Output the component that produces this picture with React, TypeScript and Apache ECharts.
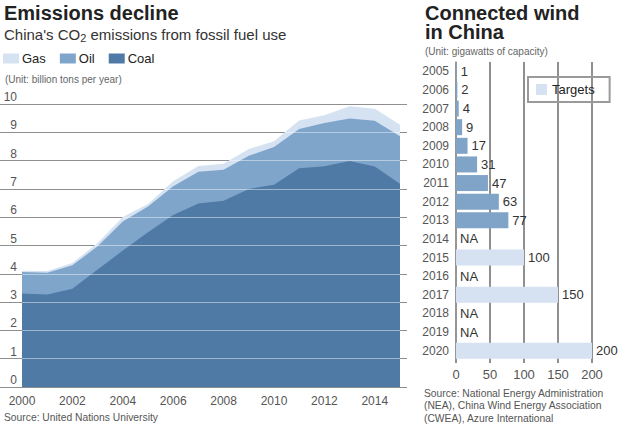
import React, { useEffect, useRef } from "react";
import * as echarts from "echarts";

const years = [2000, 2001, 2002, 2003, 2004, 2005, 2006, 2007, 2008, 2009, 2010, 2011, 2012, 2013, 2014, 2015];
const coal = [3.30, 3.27, 3.47, 4.15, 4.82, 5.47, 6.08, 6.48, 6.58, 7.00, 7.15, 7.73, 7.80, 7.99, 7.79, 7.18];
const oil = [0.76, 0.77, 0.83, 0.82, 1.03, 0.91, 1.01, 1.13, 1.10, 1.17, 1.33, 1.39, 1.53, 1.50, 1.62, 1.68];
const gas = [0.05, 0.06, 0.08, 0.12, 0.16, 0.09, 0.18, 0.20, 0.21, 0.24, 0.20, 0.30, 0.27, 0.43, 0.42, 0.41];
const xTickYears = [2000, 2002, 2004, 2006, 2008, 2010, 2012, 2014];
const yTicks = [0, 1, 2, 3, 4, 5, 6, 7, 8, 9, 10];

const windYears = ["2005", "2006", "2007", "2008", "2009", "2010", "2011", "2012", "2013", "2014", "2015", "2016", "2017", "2018", "2019", "2020"];
const installed = [1, 2, 4, 9, 17, 31, 47, 63, 77, null, null, null, null, null, null, null];
const targets = [null, null, null, null, null, null, null, null, null, null, 100, null, 150, null, null, 200];
const notAvailable = [null, null, null, null, null, null, null, null, null, 0, null, 0, null, 0, 0, null];

const COAL = "#4f7aa6";
const OIL = "#80a5ca";
const GAS = "#d5e2f2";
const BAR = "#80a3c8";
const TARGET = "#d6e2f2";
const FONT = "'Liberation Sans', Arial, sans-serif";
const NARROW = "'Liberation Sans Narrow', 'Liberation Sans', Arial, sans-serif";

export default function App() {
  const ref = useRef<HTMLDivElement>(null);
  useEffect(() => {
    if (!ref.current) return;
    const chart = echarts.init(ref.current, null, { renderer: "svg" });
    const oilTop = coal.map((c, i) => c + oil[i]);
    const gasTop = oilTop.map((o, i) => o + gas[i]);
    const pair = (arr: number[]) => arr.map((v, i) => [years[i], v]);
    const areaSeries = (name: string, data: number[], color: string, z: number, extra: any = {}) => ({
      name,
      type: "line",
      xAxisIndex: 0,
      yAxisIndex: 0,
      data: pair(data),
      symbol: "none",
      lineStyle: { width: 0 },
      itemStyle: { color },
      areaStyle: { color, opacity: 1 },
      z,
      ...extra,
    });
    const option: any = {
      animation: false,
      backgroundColor: "#fff",
      textStyle: { fontFamily: FONT },
      legend: [
        {
          data: ["Gas", "Oil", "Coal"],
          left: 3,
          top: 52,
          itemWidth: 16,
          itemHeight: 10,
          itemGap: 14,
          padding: 0,
          icon: "rect",
          textStyle: { fontSize: 13, color: "#222", fontFamily: FONT, padding: [0, 0, 0, -2] },
        },
        {
          data: ["Targets"],
          left: 528,
          top: 77,
          itemWidth: 11,
          itemHeight: 11,
          padding: [6, 15, 6, 8],
          borderColor: "#9a9a9a",
          borderWidth: 2,
          icon: "rect",
          textStyle: { fontSize: 13, color: "#222", fontFamily: FONT },
        },
      ],
      grid: [
        { left: 0, top: 104, width: 407, height: 283 },
        { left: 456, top: 62, width: 136, height: 298 },
      ],
      xAxis: [
        {
          type: "value",
          gridIndex: 0,
          min: 1999.127,
          max: 2015.278,
          axisLine: { show: false },
          axisTick: { show: false },
          splitLine: { show: false },
          axisLabel: {
            customValues: xTickYears,
            formatter: (v: number) => String(v),
            color: "#555",
            fontSize: 12,
            margin: 8,
            fontFamily: FONT,
          },
        },
        {
          type: "value",
          gridIndex: 1,
          min: 0,
          max: 200,
          interval: 50,
          axisLine: { show: false },
          axisTick: { show: true, length: 3, lineStyle: { color: "#8f8f8f", width: 2 } },
          splitLine: { show: true, lineStyle: { color: "#8f8f8f", width: 2 } },
          axisLabel: { color: "#555", fontSize: 13, margin: 8, fontFamily: FONT },
        },
      ],
      yAxis: [
        {
          type: "value",
          gridIndex: 0,
          min: 0,
          max: 10,
          interval: 1,
          axisLine: { show: false },
          axisTick: { show: false },
          splitLine: { show: true, lineStyle: { color: "#333", width: 1.2, type: "solid" } },
          axisLabel: {
            inside: true,
            align: "right",
            verticalAlign: "bottom",
            margin: 17,
            padding: [0, 0, 1, 0],
            color: "#555",
            fontSize: 12,
            fontFamily: FONT,
          },
        },
        {
          type: "category",
          gridIndex: 1,
          data: windYears,
          inverse: true,
          axisLine: { show: true, lineStyle: { color: "#999", width: 1.5 } },
          axisTick: { show: false },
          splitLine: { show: false },
          axisLabel: { color: "#555", fontSize: 12, margin: 7, fontFamily: FONT },
        },
      ],
      series: [
        areaSeries("Gas", gasTop, GAS, 2),
        areaSeries("Oil", oilTop, OIL, 3),
        areaSeries("Coal", coal, COAL, 4, {
          markLine: {
            silent: true,
            symbol: "none",
            label: { show: false },
            lineStyle: { color: "rgba(255,255,255,0.45)", width: 1.2, type: "solid" },
            data: yTicks.map((v) => ({ yAxis: v })),
          },
        }),
        {
          name: "Installed",
          type: "bar",
          xAxisIndex: 1,
          yAxisIndex: 1,
          stack: "wind",
          data: installed,
          barWidth: 16,
          itemStyle: { color: BAR },
          label: { show: true, position: "right", distance: 4, color: "#333", fontSize: 13, fontFamily: FONT },
        },
        {
          name: "Targets",
          type: "bar",
          xAxisIndex: 1,
          yAxisIndex: 1,
          stack: "wind",
          data: targets,
          barWidth: 16,
          itemStyle: { color: TARGET },
          label: { show: true, position: "right", distance: 4, color: "#333", fontSize: 13, fontFamily: FONT },
        },
        {
          name: "NA",
          type: "bar",
          xAxisIndex: 1,
          yAxisIndex: 1,
          stack: "wind",
          data: notAvailable,
          barWidth: 16,
          itemStyle: { color: "transparent" },
          label: {
            show: true,
            position: "right",
            distance: 4,
            formatter: () => "NA",
            color: "#333",
            fontSize: 13,
            fontFamily: FONT,
          },
        },
      ],
      graphic: [
        {
          type: "text",
          left: 4,
          top: 3,
          style: { text: "Emissions decline", font: `bold 20px ${FONT}`, fill: "#222" },
        },
        {
          type: "text",
          left: 4,
          top: 27,
          style: {
            text: "China's CO{sub|2} emissions from fossil fuel use",
            font: `15px ${FONT}`,
            fill: "#333",
            rich: { sub: { fontSize: 11, fill: "#333", padding: [6, 0, 0, 0], fontFamily: FONT } },
          },
        },
        {
          type: "text",
          left: 5,
          top: 74,
          style: { text: "(Unit: billion tons per year)", font: `10px ${NARROW}`, fill: "#666" },
        },
        {
          type: "text",
          left: 4,
          top: 412,
          style: { text: "Source: United Nations University", font: `10.3px ${NARROW}`, fill: "#555" },
        },
        {
          type: "text",
          left: 425,
          top: 3,
          style: { text: "Connected wind", font: `bold 20px ${FONT}`, lineHeight: 19, fill: "#222" },
        },
        {
          type: "text",
          left: 425,
          top: 22,
          style: { text: "in China", font: `bold 20px ${FONT}`, lineHeight: 19, fill: "#222" },
        },
        {
          type: "text",
          left: 425,
          top: 46,
          style: { text: "(Unit: gigawatts of capacity)", font: `10px ${NARROW}`, fill: "#666" },
        },
        {
          type: "text",
          left: 424,
          top: 387,
          style: {
            text: "Source: National Energy Administration\n(NEA), China Wind Energy Association\n(CWEA), Azure International",
            font: `10.3px ${NARROW}`,
            lineHeight: 12.5,
            fill: "#555",
          },
        },
      ],
    };
    chart.setOption(option);
    return () => chart.dispose();
  }, []);
  return (
    <div
      ref={ref}
      style={{ position: "fixed", left: 0, top: 0, width: 626, height: 430, background: "#fff" }}
    />
  );
}
